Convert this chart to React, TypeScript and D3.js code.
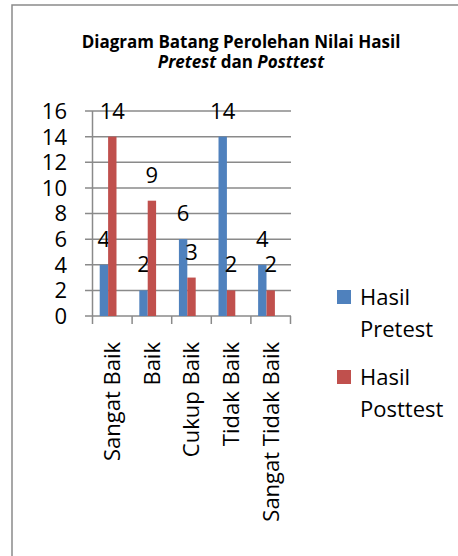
import * as d3 from "d3";
import { useEffect, useRef } from "react";

const categories = ["Sangat Baik", "Baik", "Cukup Baik", "Tidak Baik", "Sangat Tidak Baik"];
const pretest = [4, 2, 6, 14, 4];
const posttest = [14, 9, 3, 2, 2];
const seriesNames = ["Hasil Pretest", "Hasil Posttest"];
const seriesColors = ["#4F81BD", "#C0504D"];
const yTicks = [0, 2, 4, 6, 8, 10, 12, 14, 16];

const FONT = "'Open Sans', sans-serif";
const SIZE = 22;

function BarChart() {
  const ref = useRef<SVGSVGElement>(null);

  useEffect(() => {
    document.body.style.margin = "0";
    const svg = d3.select(ref.current);
    svg.selectAll("*").remove();

    // frame (right and bottom edges run off the picture)
    svg.append("rect")
      .attr("x", 12).attr("y", 5)
      .attr("width", 470).attr("height", 570)
      .attr("fill", "white")
      .attr("stroke", "#8a8a8a").attr("stroke-width", 1.5);

    svg.append("text")
      .attr("x", 241).attr("y", 48)
      .attr("text-anchor", "middle")
      .style("font", `bold 17px ${FONT}`)
      .text("Diagram Batang Perolehan Nilai Hasil");
    const l2 = svg.append("text")
      .attr("x", 241).attr("y", 68)
      .attr("text-anchor", "middle")
      .style("font", `bold 17px ${FONT}`);
    l2.append("tspan").style("font-style", "italic").text("Pretest");
    l2.append("tspan").text(" dan ");
    l2.append("tspan").style("font-style", "italic").text("Posttest");

    const y = d3.scaleLinear().domain([0, 16]).range([316, 111]);
    const x = d3.scaleBand().domain(categories).range([92.5, 290.5]).padding(0);
    // third slot is an empty series in the original sheet
    const x1 = d3.scaleBand()
      .domain([...seriesNames, ""])
      .range([0, x.bandwidth()])
      .paddingInner(0)
      .paddingOuter(0.86);

    const grid = svg.append("g");
    yTicks.forEach((t) => {
      grid.append("line")
        .attr("x1", 85).attr("x2", 291)
        .attr("y1", y(t)).attr("y2", y(t))
        .attr("stroke", "#8a8a8a").attr("stroke-width", 1.5);
      svg.append("text")
        .attr("x", 67).attr("y", y(t))
        .attr("dy", "0.36em")
        .attr("text-anchor", "end")
        .style("font", `${SIZE}px ${FONT}`)
        .text(t);
    });

    // y axis line
    grid.append("line")
      .attr("x1", 92.5).attr("x2", 92.5)
      .attr("y1", y(16)).attr("y2", y(0))
      .attr("stroke", "#8a8a8a").attr("stroke-width", 1.5);

    // x ticks
    const edges = [...categories.map((c) => x(c) as number), 290.5];
    edges.forEach((e) => {
      grid.append("line")
        .attr("x1", e).attr("x2", e)
        .attr("y1", y(0)).attr("y2", y(0) + 8)
        .attr("stroke", "#8a8a8a").attr("stroke-width", 1.5);
    });

    const series = [pretest, posttest];
    series.forEach((vals, si) => {
      const g = svg.append("g");
      vals.forEach((v, i) => {
        const bx = (x(categories[i]) as number) + (x1(seriesNames[si]) as number);
        g.append("rect")
          .attr("x", bx).attr("y", y(v))
          .attr("width", x1.bandwidth())
          .attr("height", y(0) - y(v))
          .attr("fill", seriesColors[si]);
        g.append("text")
          .attr("x", bx + x1.bandwidth() / 2)
          .attr("y", y(v) - 18)
          .attr("text-anchor", "middle")
          .style("font", `${SIZE}px ${FONT}`)
          .text(v);
      });
    });

    // category labels
    categories.forEach((c) => {
      const cx = (x(c) as number) + x.bandwidth() / 2;
      svg.append("text")
        .attr("transform", `translate(${cx},342) rotate(-90)`)
        .attr("dy", "0.36em")
        .attr("text-anchor", "end")
        .style("font", `${SIZE}px ${FONT}`)
        .text(c);
    });

    // legend
    const legendY = [297, 377];
    seriesNames.forEach((name, i) => {
      const [w1, w2] = name.split(" ");
      svg.append("rect")
        .attr("x", 337).attr("y", legendY[i] - 7)
        .attr("width", 14).attr("height", 14)
        .attr("fill", seriesColors[i]);
      const t = svg.append("text").style("font", `${SIZE}px ${FONT}`);
      t.append("tspan").attr("x", 360).attr("y", legendY[i] + 8).text(w1);
      t.append("tspan").attr("x", 360).attr("y", legendY[i] + 40).text(w2);
    });
  });

  return <svg ref={ref} width={458} height={556} style={{ display: "block" }} />;
}

export default function App() {
  return <BarChart />;
}
